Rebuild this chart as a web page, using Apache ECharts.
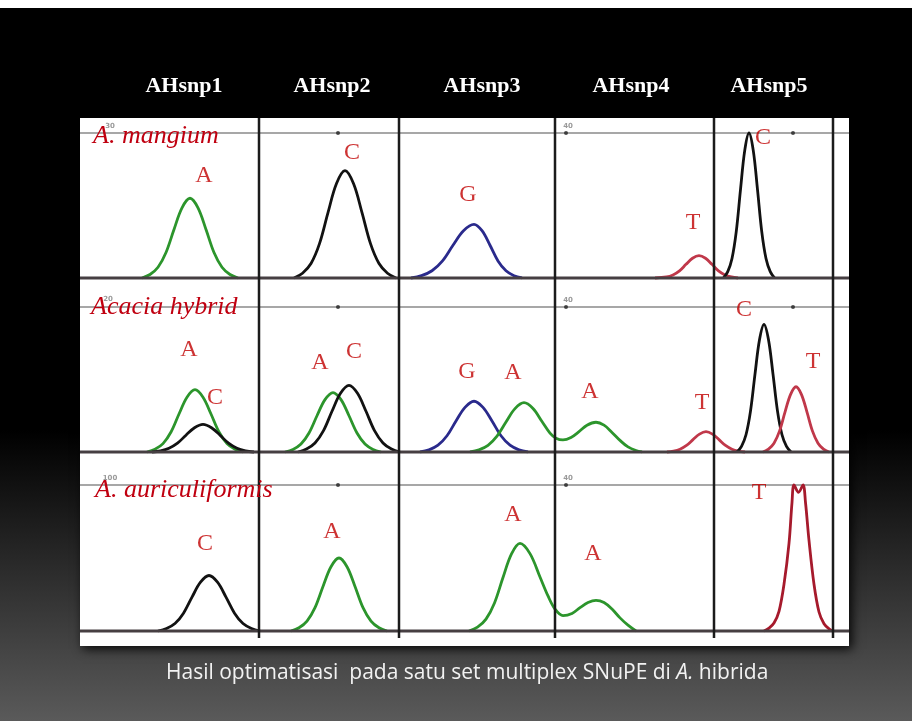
<!DOCTYPE html>
<html><head><meta charset="utf-8">
<script src="https://cdn.jsdelivr.net/npm/echarts@6/dist/echarts.min.js"></script>
<style>
html,body{margin:0;padding:0;}
#c{width:912px;height:721px;background:linear-gradient(to bottom,#fff 0px,#fff 8px,#000 8px,#000 430px,#5a5a5a 721px);}
</style>
</head><body><div id="c"></div>
<script>
// ---------- DATA ----------
const columns = ['AHsnp1', 'AHsnp2', 'AHsnp3', 'AHsnp4', 'AHsnp5'];
const species = ['A. mangium', 'Acacia hybrid', 'A. auriculiformis'];
const caption = 'Hasil optimatisasi  pada satu set multiplex SNuPE di ';
const captionItalic = 'A.';
const captionEnd = ' hibrida';
// column divider positions (scan units)
const dividers = [179, 319, 475, 634, 753];

// Row 1: A. mangium  (x = scan units, y = signal, 100 = top reference line)
const r1GreenA  = [[62,0],[70,2.4],[78,7.4],[86,17.6],[94,33.5],[102,48.4],[110,55],[118,48.4],[126,33.5],[134,17.6],[142,7.4],[150,2.4],[158,0]];
const r1BlackC  = [[214,0],[222.5,3.3],[231,10],[239.5,23.7],[248,45.1],[256.5,65.1],[265,74],[273.5,65.1],[282,45.1],[290.5,23.7],[299,10],[307.5,3.3],[316,0]];
const r1BlueG   = [[331,0],[341.5,1.6],[352,5],[362.5,11.8],[373,22.6],[383.5,32.6],[394,37],[402,32.6],[410,22.6],[418,11.8],[426,5],[434,1.6],[442,0]];
const r1RedT    = [[575,0],[586.5,0.7],[593,2.1],[599.5,4.9],[606,9.4],[612.5,13.6],[619,15.4],[625.5,13.6],[632,9.4],[638.5,4.9],[645,2.1],[651.5,0.7],[658,0]];
const r1BlackC5 = [[643.5,0],[647.75,4.4],[652,13.5],[656.25,32],[660.5,61],[664.75,88],[669,100],[673.25,88],[677.5,61],[681.75,32],[686,13.5],[690.25,4.4],[694.5,0]];
const r1Labels  = [[124,70.3,'A'],[272,86.2,'C'],[388,57.2,'G'],[613,37.9,'T'],[683,96.6,'C']];

// Row 2: Acacia hybrid
const r2GreenA1  = [[67,0],[75,1.9],[83,5.8],[91,13.8],[99,26.2],[107,37.8],[115,43],[123,37.8],[131,26.2],[139,13.8],[147,5.8],[155,1.9],[163,0]];
const r2BlackC1  = [[72,0],[80.5,0.8],[89,2.6],[97.5,6.1],[106,11.6],[114.5,16.7],[123,19],[131.5,16.7],[140,11.6],[148.5,6.1],[157,2.6],[165.5,0.8],[174,0]];
const r2GreenA2  = [[205,0],[213,1.8],[221,5.5],[229,13.1],[237,25],[245,36.1],[253,41],[261,36.1],[269,25],[277,13.1],[285,5.5],[293,1.8],[301,0]];
const r2BlackC2  = [[218,0],[226.5,2],[235,6.2],[243.5,14.7],[252,28.1],[260.5,40.5],[269,46],[277.5,40.5],[286,28.1],[294.5,14.7],[303,6.2],[311.5,2],[320,0]];
const r2BlueG    = [[340,0],[349,1.5],[358,4.7],[367,11.2],[376,21.4],[385,30.8],[394,35],[403,30.8],[412,21.4],[421,11.2],[430,4.7],[439,1.5],[448,0]];
const r2GreenA34 = [[390,0],[399,1.5],[408,4.6],[417,10.9],[426,20.7],[435,29.9],[444,34],[453,30],[462,21],[470,13],[476,9.5],[483,8.3],[491,10],[499,14],[507,18.5],[516,20.5],[524,18.5],[532,13.5],[540,8],[548,3.5],[556,1],[562,0]];
const r2RedT4    = [[587,0],[593.5,0.6],[600,1.9],[606.5,4.5],[613,8.5],[619.5,12.3],[626,14],[632.5,12.3],[639,8.5],[645.5,4.5],[652,1.9],[658.5,0.6],[665,0]];
const r2BlackC5  = [[657,0],[661.5,3.9],[666,11.9],[670.5,28.2],[675,53.7],[679.5,77.4],[684,88],[688.5,77.4],[693,53.7],[697.5,28.2],[702,11.9],[706.5,3.9],[711,0]];
const r2RedT5    = [[683,0],[688.5,2],[694,6.1],[699.5,14.4],[705,27.5],[710.5,39.6],[716,45],[721.5,39.6],[727,27.5],[732.5,14.4],[738,6.1],[743.5,2],[749,0]];
const r2Labels   = [[109,70.3,'A'],[135,37.2,'C'],[240,61.4,'A'],[274,69,'C'],[387,55.2,'G'],[433,54.5,'A'],[510,41.4,'A'],[622,33.8,'T'],[664,97.9,'C'],[733,62.1,'T']];

// Row 3: A. auriculiformis
const r3BlackC1  = [[78,0],[86.5,1.7],[95,5.1],[103.5,12.2],[112,23.2],[120.5,33.4],[129,38],[137.5,33.4],[146,23.2],[154.5,12.2],[163,5.1],[171.5,1.7],[180,0]];
const r3GreenA2  = [[211,0],[219,2.2],[227,6.8],[235,16],[243,30.5],[251,44],[259,50],[267,44],[275,30.5],[283,16],[291,6.8],[299,2.2],[307,0]];
const r3GreenA34 = [[389,0],[397.5,2.6],[406,8.1],[414.5,19.2],[423,36.6],[431.5,52.8],[440,60],[450,53],[460,37],[468,24],[475,15],[483,10.5],[492,12],[500,16],[508,19.5],[516,21],[524,19.5],[532,15],[540,9],[548,4],[556,0]];
const r3RedT5    = [[684,0],[689,2],[694,5.5],[699,13.5],[704,32],[709,60],[712,88],[714,100],[718.5,95],[723,100],[725.5,88],[729,62],[734,32],[739,13],[744,5],[749,1.5],[753,0]];
const r3Labels   = [[125,59.6,'C'],[252,67.8,'A'],[433,79.5,'A'],[513,52.7,'A'],[679,94.5,'T']];

// small reference dots on the top line
const refDots = [[[258,100],[713,100],[486,100]], [[258,100],[713,100],[486,100]], [[258,100],[486,100]]];

// ---------- CHART ----------
const GREEN = '#2c952c', BLACK = '#121212', BLUE = '#2a2a8c', RED = '#c0384a', DRED = '#a61a2c';
const chart = echarts.init(document.getElementById('c'), null, {renderer: 'canvas'});

const PX_L = 80, PX_W = 769;
const rowsLayout = [
  {top: 118, height: 172, min: -8.28, max: 110.34},
  {top: 290, height: 172, min: -6.9, max: 111.72},
  {top: 462, height: 184, min: -10.27, max: 115.75}
];
const grids = [{left: PX_L, top: 118, width: PX_W, height: 528, show: true, backgroundColor: '#ffffff', borderWidth: 0,
  shadowBlur: 10, shadowColor: 'rgba(0,0,0,0.9)', shadowOffsetX: 3, shadowOffsetY: 3}];
const xAxes = [{type: 'value', gridIndex: 0, min: 0, max: PX_W, show: false}];
const yAxes = [{type: 'value', gridIndex: 0, min: 0, max: 100, show: false}];
rowsLayout.forEach((r, i) => {
  grids.push({left: PX_L, top: r.top, width: PX_W, height: r.height, show: false});
  xAxes.push({type: 'value', gridIndex: i + 1, min: 0, max: PX_W, show: false});
  yAxes.push({type: 'value', gridIndex: i + 1, min: r.min, max: r.max, show: false});
});

const series = [];
dividers.forEach(d => series.push({type: 'line', xAxisIndex: 0, yAxisIndex: 0, data: [[d, 1.5], [d, 100]],
  symbol: 'none', silent: true, lineStyle: {color: '#1b1b1b', width: 2.5}, z: 5}));

function line(g, data, color, width, z) {
  return {type: 'line', xAxisIndex: g, yAxisIndex: g, data: data, smooth: 0.35, symbol: 'none',
    silent: true, lineStyle: {color: color, width: width}, z: z || 3};
}
const rowTraces = [
  [[r1GreenA, GREEN], [r1BlackC, BLACK], [r1BlueG, BLUE], [r1RedT, RED], [r1BlackC5, BLACK]],
  [[r2GreenA1, GREEN], [r2BlackC1, BLACK], [r2GreenA2, GREEN], [r2BlackC2, BLACK], [r2BlueG, BLUE],
   [r2GreenA34, GREEN], [r2RedT4, RED], [r2BlackC5, BLACK], [r2RedT5, RED]],
  [[r3BlackC1, BLACK], [r3GreenA2, GREEN], [r3GreenA34, GREEN], [r3RedT5, DRED]]
];
const rowLabels = [r1Labels, r2Labels, r3Labels];
rowTraces.forEach((traces, i) => {
  const g = i + 1;
  // top reference line and baseline
  series.push(line(g, [[0, 100], [PX_W, 100]], '#8a8a8a', 1.5, 2));
  series.push(line(g, [[0, 0], [PX_W, 0]], '#463f42', 2.8, 4));
  traces.forEach(t => series.push(line(g, t[0], t[1], 2.8, 3)));
  series.push({type: 'scatter', xAxisIndex: g, yAxisIndex: g, data: refDots[i], symbolSize: 4,
    itemStyle: {color: '#222'}, silent: true, z: 6});
  series.push({type: 'scatter', xAxisIndex: g, yAxisIndex: g, data: rowLabels[i], symbolSize: 1,
    itemStyle: {color: 'rgba(0,0,0,0)'}, silent: true, z: 7,
    label: {show: true, position: 'inside', formatter: p => p.data[2],
      fontFamily: 'Liberation Serif', fontSize: 24, color: '#c00000'}});
});

const headerX = [184, 332, 482, 631, 769];
const speciesPos = [[93, 136.5], [91, 307.5], [95, 490.5]];
const graphic = [];
columns.forEach((c, i) => graphic.push({type: 'text', x: headerX[i], y: 86, z: 10,
  style: {text: c, fill: '#ffffff', font: 'bold 22px "Liberation Serif"', textAlign: 'center', textVerticalAlign: 'middle'}}));
species.forEach((s, i) => graphic.push({type: 'text', x: speciesPos[i][0], y: speciesPos[i][1], z: 10,
  style: {text: s, fill: '#c00010', font: 'italic 26px "Liberation Serif"', textAlign: 'left', textVerticalAlign: 'middle'}}));
// faint scale marks
[['30', 110, 126], ['20', 108, 299], ['100', 110, 478], ['40', 568, 126], ['40', 568, 300], ['40', 568, 478]].forEach(m =>
  graphic.push({type: 'text', x: m[1], y: m[2], z: 10,
    style: {text: m[0], fill: '#9a9a9a', font: 'bold 7px "DejaVu Sans"', textAlign: 'center', textVerticalAlign: 'middle'}}));

chart.setOption({
  backgroundColor: 'transparent',
  animation: false,
  title: {
    text: '{n|' + caption + '}{i|' + captionItalic + '}{n|' + captionEnd + '}',
    left: 166, top: 661, padding: 0,
    textStyle: {fontWeight: 'normal', rich: {
      n: {fontFamily: 'Open Sans', fontSize: 21, fontWeight: 'normal', color: '#f2f2f2', lineHeight: 24},
      i: {fontFamily: 'Open Sans', fontSize: 21, fontWeight: 'normal', fontStyle: 'italic', color: '#f2f2f2', lineHeight: 24}
    }}
  },
  grid: grids, xAxis: xAxes, yAxis: yAxes, series: series, graphic: graphic
});
</script></body></html>
